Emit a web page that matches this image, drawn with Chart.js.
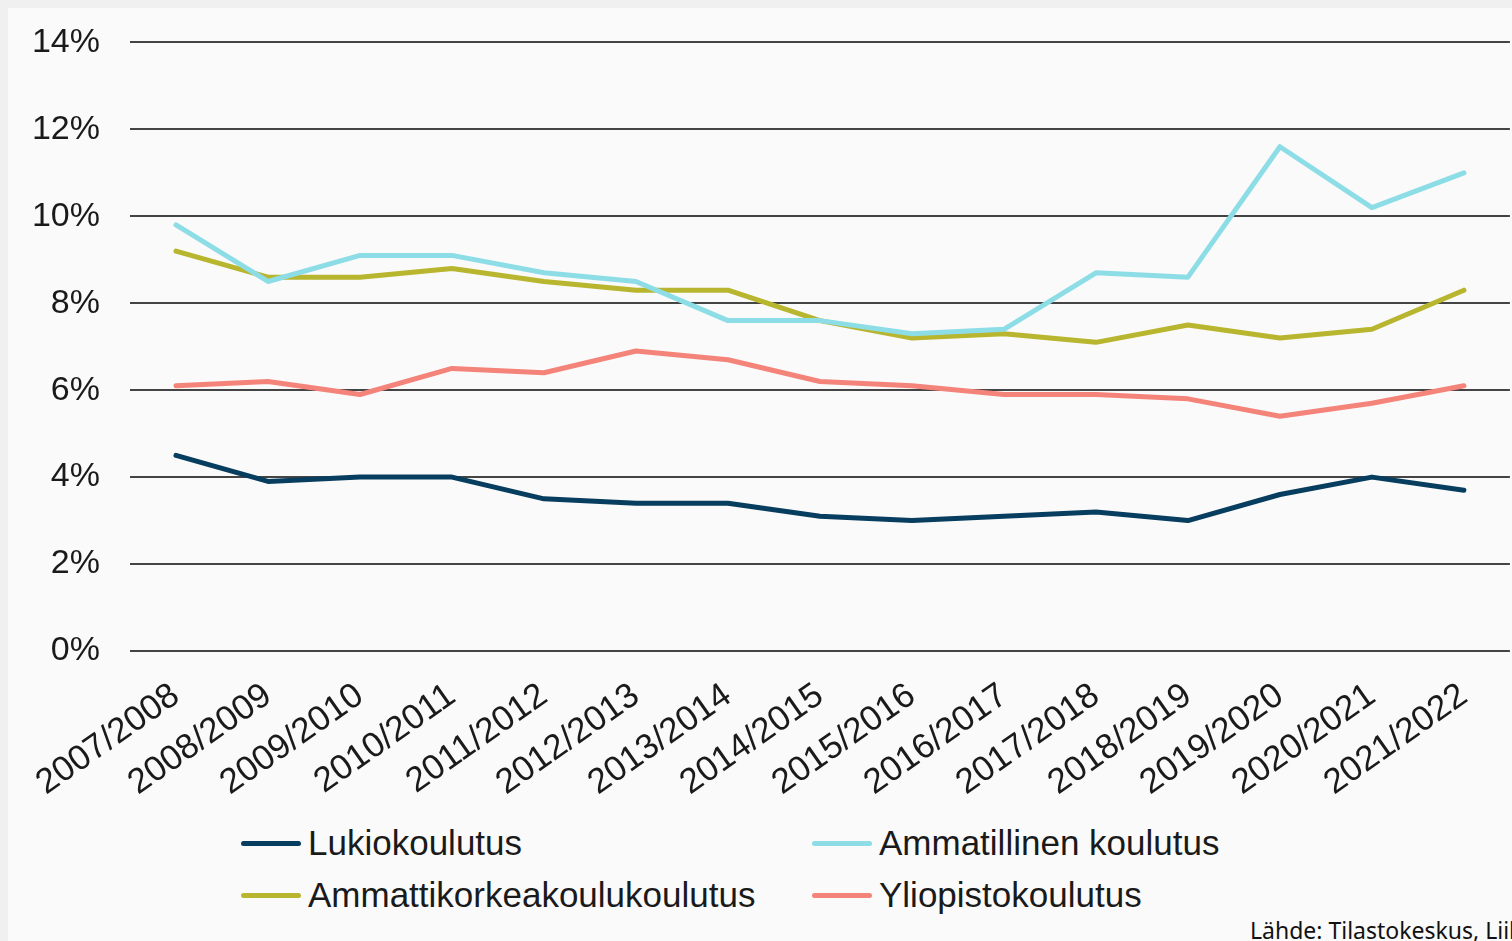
<!DOCTYPE html>
<html>
<head>
<meta charset="utf-8">
<script src="https://cdn.jsdelivr.net/npm/chart.js@4/dist/chart.umd.min.js"></script>
<style>
  body { margin: 0; background: #f0f0f0; width: 1512px; height: 941px; overflow: hidden; font-family: "Liberation Sans", Arial, sans-serif; }
  #panel { position: absolute; left: 8px; top: 8px; width: 1504px; height: 933px; background: #fafafa; overflow: hidden; }
  #chartBox { position: absolute; left: 0; top: -16px; width: 1504px; height: 816px; }
  .legend-item { position: absolute; font-size: 35px; color: #1a1a1a; line-height: 40px; white-space: nowrap; }
  .legend-item span.swatch { display: inline-block; width: 60px; height: 5px; border-radius: 3px; vertical-align: middle; margin-right: 7px; position: relative; top: -2px; }
  #source { position: absolute; left: 1242px; top: 906px; font-family: "Noto Sans", sans-serif; font-size: 23px; color: #111; white-space: nowrap; }
</style>
</head>
<body>
<div id="panel">
  <div id="chartBox"><canvas id="myChart"></canvas></div>
  <div id="legend"></div>
  <div id="source">Lähde: Tilastokeskus, Liikkuvuustilasto</div>
</div>
<script>
// school years on the x axis
const years = ['2007/2008', '2008/2009', '2009/2010', '2010/2011', '2011/2012', '2012/2013', '2013/2014',
               '2014/2015', '2015/2016', '2016/2017', '2017/2018', '2018/2019', '2019/2020', '2020/2021', '2021/2022'];

// series values in percent
const lukio = [4.5, 3.9, 4.0, 4.0, 3.5, 3.4, 3.4, 3.1, 3.0, 3.1, 3.2, 3.0, 3.6, 4.0, 3.7];
const ammatillinen = [9.8, 8.5, 9.1, 9.1, 8.7, 8.5, 7.6, 7.6, 7.3, 7.4, 8.7, 8.6, 11.6, 10.2, 11.0];
const amk = [9.2, 8.6, 8.6, 8.8, 8.5, 8.3, 8.3, 7.6, 7.2, 7.3, 7.1, 7.5, 7.2, 7.4, 8.3];
const yliopisto = [6.1, 6.2, 5.9, 6.5, 6.4, 6.9, 6.7, 6.2, 6.1, 5.9, 5.9, 5.8, 5.4, 5.7, 6.1];

const yTicks = [0, 2, 4, 6, 8, 10, 12, 14];

const seriesList = [
    { label: 'Lukiokoulutus', data: lukio, color: '#073d5e' },
    { label: 'Ammatillinen koulutus', data: ammatillinen, color: '#8ddde7' },
    { label: 'Ammattikorkeakoulukoulutus', data: amk, color: '#b8b52e' },
    { label: 'Yliopistokoulutus', data: yliopisto, color: '#f4837a' }
];

// legend laid out in two columns like the original
const legendPos = [
    { left: 233, top: 815 },
    { left: 804, top: 815 },
    { left: 233, top: 867 },
    { left: 804, top: 867 }
];
const legendEl = document.getElementById('legend');
seriesList.forEach((s, i) => {
    const div = document.createElement('div');
    div.className = 'legend-item';
    div.style.left = legendPos[i].left + 'px';
    div.style.top = legendPos[i].top + 'px';
    div.innerHTML = '<span class="swatch" style="background:' + s.color + '"></span>' + s.label;
    legendEl.appendChild(div);
});

const yFont = { family: '"Liberation Sans", Arial, sans-serif', size: 34 };
const xFont = { family: '"Liberation Sans", Arial, sans-serif', size: 35 };

var ctx = document.getElementById('myChart').getContext('2d');
var myChart = new Chart(ctx, {
    type: 'line',
    data: {
        labels: years,
        datasets: seriesList.map(s => ({
            label: s.label,
            data: s.data,
            borderColor: s.color,
            backgroundColor: s.color,
            borderWidth: 5,
            pointRadius: 0,
            tension: 0,
            borderJoinStyle: 'round',
            borderCapStyle: 'round'
        }))
    },
    options: {
        responsive: true,
        maintainAspectRatio: false,
        animation: false,
        layout: { padding: 0 },
        plugins: {
            legend: { display: false },
            tooltip: { enabled: false }
        },
        scales: {
            x: {
                offset: true,
                grid: { display: false, drawTicks: false },
                border: { display: false },
                ticks: {
                    font: xFont,
                    color: '#1a1a1a',
                    minRotation: 35,
                    maxRotation: 35,
                    padding: 24,
                    autoSkip: false
                },
                afterFit: function(scale) { scale.height = 157; }
            },
            y: {
                min: 0,
                max: 14,
                afterBuildTicks: function(scale) {
                    scale.ticks = yTicks.map(v => ({ value: v }));
                },
                grid: { color: '#444', lineWidth: 2, drawTicks: false },
                border: { display: false },
                ticks: {
                    font: yFont,
                    color: '#1a1a1a',
                    padding: 30,
                    callback: v => v + '%'
                },
                afterFit: function(scale) { scale.width = 122; }
            }
        }
    }
});
</script>
</body>
</html>
